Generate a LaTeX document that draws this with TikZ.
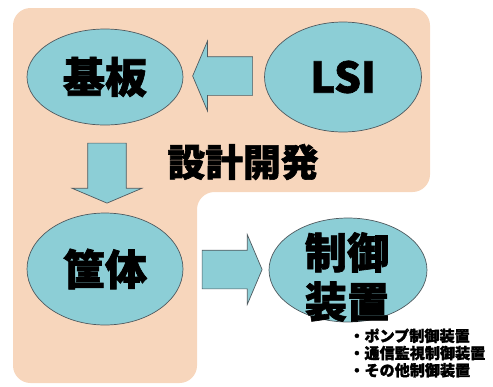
\documentclass[tikz,border=0pt]{standalone}
\usepackage{fontspec}
\newfontfamily\cjk{Noto Sans CJK JP}[BoldFeatures={FakeBold=1.6}]
\usetikzlibrary{shapes.geometric,shapes.arrows,calc}
\definecolor{peche}{RGB}{247,214,188}
\definecolor{turquoise}{RGB}{140,206,214}
\definecolor{contour}{RGB}{80,90,95}

\begin{document}
\begin{tikzpicture}[
    x=0.02cm, y=-0.02cm,
    zone/.style={fill=peche, rounded corners=0.35cm},
    bulle/.style={ellipse, draw=contour, fill=turquoise, thin, inner sep=0pt, font=\cjk\bfseries\fontsize{24}{28}\selectfont},
    fleche/.style={single arrow, draw=contour, fill=turquoise, thin, inner xsep=0pt, inner ysep=0.38cm, minimum height=1.2cm, single arrow head extend=0.31cm, single arrow tip angle=134},
    titre/.style={font=\cjk\bfseries\fontsize{24}{28}\selectfont, align=center},
    liste/.style={font=\cjk\bfseries\fontsize{8.6}{9.8}\selectfont, align=left, inner sep=0pt}
]
\useasboundingbox (0,0) rectangle (493,386);

% Zone de conception
\fill[zone] (13,8) -- (430,8) -- (430,192) -- (197,192) -- (197,383) -- (13,383) -- cycle;

% Bulles
\node[bulle, minimum width=3.12cm, minimum height=1.92cm] (kiban) at (105,77) {基板};
\node[bulle, minimum width=3.14cm, minimum height=2.2cm] (lsi) at (343,77) {LSI};
\node[bulle, minimum width=3.12cm, minimum height=2.24cm] (kyotai) at (105,269) {筐体};
\node[bulle, minimum width=3.16cm, minimum height=2.08cm] (seigyo) at (348,270) {};
\node[titre] (seigyotxt) at (347,277) {制御\\装置};

% Fleches
\node[fleche, rotate=180] (versgauche) at ($(kiban.east)!0.5!(lsi.west)+(3,-1)$) {};
\node[fleche, rotate=-90] (versbas) at ($(kiban.south)!0.5!(kyotai.north)+(2,0)$) {};
\node[fleche] (versdroite) at ($(kyotai.east)!0.5!(seigyo.west)+(2,0)$) {};

% Textes
\node[titre, font=\cjk\bfseries\fontsize{21.5}{26}\selectfont] (sekkei) at (243,162) {設計開発};
\node[liste, anchor=north west] (produits) at (349,328) {・ポンプ制御装置\\・通信監視制御装置\\・その他制御装置};

\end{tikzpicture}
\end{document}
